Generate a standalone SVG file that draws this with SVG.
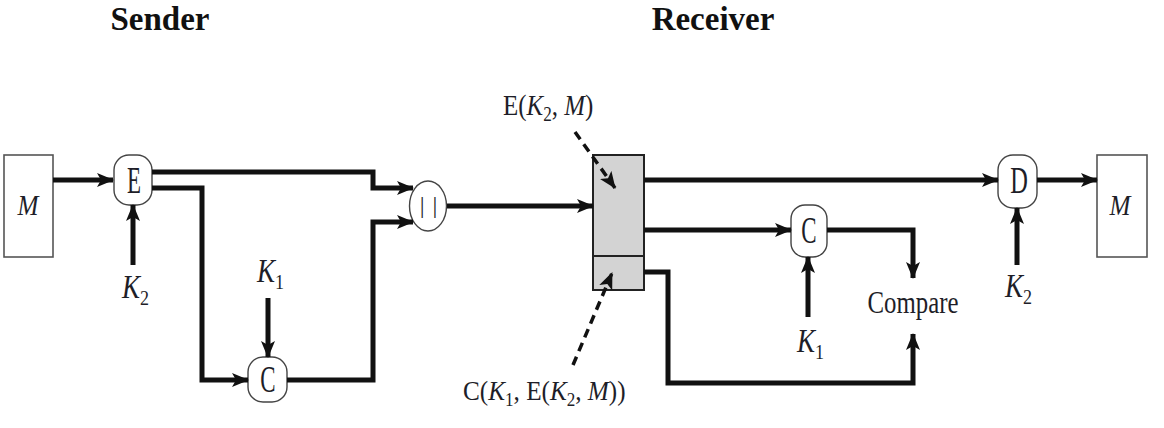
<svg xmlns="http://www.w3.org/2000/svg" width="1164" height="428" viewBox="0 0 1164 428">
<style>
.t{font-family:"Liberation Serif","Times New Roman",serif;fill:#1e1e28}
.title{font-size:33px;font-weight:bold;fill:#111}
.nl{font-size:37px}
.kl{font-size:33px}
.i{font-style:italic}
.sub{font-size:22px}
.conn{fill:none;stroke:#111;stroke-width:5;stroke-linejoin:miter}
.dash{fill:none;stroke:#111;stroke-width:3.5;stroke-dasharray:9 6}
.box{fill:#fff;stroke:#555;stroke-width:1.6}
.node{fill:#fff;stroke:#444;stroke-width:1.4}
.gray{fill:#d3d3d3;stroke:#222;stroke-width:2}
</style>
<defs>
<marker id="ah" markerUnits="userSpaceOnUse" markerWidth="18" markerHeight="14" refX="16" refY="7" orient="auto">
<path d="M0,0 L17,7 L0,14 L4,7 Z" fill="#111"/>
</marker>
</defs>
<text class="t title" x="160" y="30" text-anchor="middle">Sender</text>
<text class="t title" x="713" y="30" text-anchor="middle">Receiver</text>
<g id="M-sender">
<rect class="box" x="4" y="155" width="49" height="102"/>
<text class="t i" font-size="30" text-anchor="middle" transform="translate(28,215) scale(0.84,1)">M</text>
</g>
<g id="E">
<rect class="node" x="114" y="155" width="38" height="50" rx="15" ry="15"/>
<text class="t nl" text-anchor="middle" transform="translate(134,193) scale(0.62,1)">E</text>
</g>
<g id="K2-sender">
<text class="t kl" transform="translate(122,298) scale(0.82,1)"><tspan class="i">K</tspan><tspan class="sub" dy="7">2</tspan></text>
</g>
<g id="K1-sender">
<text class="t kl" transform="translate(257,282) scale(0.82,1)"><tspan class="i">K</tspan><tspan class="sub" dy="7">1</tspan></text>
</g>
<g id="C-sender">
<rect class="node" x="248" y="357" width="39" height="45" rx="15" ry="15"/>
<text class="t nl" text-anchor="middle" transform="translate(268,392) scale(0.62,1)">C</text>
</g>
<g id="concat">
<ellipse class="node" cx="428" cy="206" rx="18.5" ry="25"/>
<text class="t" font-size="24" letter-spacing="1" text-anchor="middle" x="429" y="213" fill="#222">| |</text>
</g>
<g id="message">
<rect class="gray" x="593" y="155" width="51" height="135"/>
<line x1="593" y1="256" x2="644" y2="256" stroke="#222" stroke-width="2"/>
</g>
<g id="label-E">
<text class="t" font-size="29" transform="translate(503,115) scale(0.86,1)">E(<tspan class="i">K</tspan><tspan font-size="20" dy="6">2</tspan><tspan dy="-6">, </tspan><tspan class="i">M</tspan>)</text>
</g>
<g id="label-C">
<text class="t" font-size="28" transform="translate(463,400) scale(0.9,1)">C(<tspan class="i">K</tspan><tspan font-size="19" dy="6">1</tspan><tspan dy="-6">, E(</tspan><tspan class="i">K</tspan><tspan font-size="19" dy="6">2</tspan><tspan dy="-6">, </tspan><tspan class="i">M</tspan>))</text>
</g>
<g id="C-receiver">
<rect class="node" x="791" y="205" width="36" height="52" rx="14" ry="14"/>
<text class="t nl" text-anchor="middle" transform="translate(809,243) scale(0.62,1)">C</text>
</g>
<g id="K1-receiver">
<text class="t kl" transform="translate(797,352) scale(0.82,1)"><tspan class="i">K</tspan><tspan class="sub" dy="7">1</tspan></text>
</g>
<g id="compare">
<text class="t" x="913" y="313" text-anchor="middle" font-size="32" textLength="91" lengthAdjust="spacingAndGlyphs">Compare</text>
</g>
<g id="D">
<rect class="node" x="998" y="155" width="39" height="53" rx="15" ry="15"/>
<text class="t nl" text-anchor="middle" transform="translate(1019,193) scale(0.66,1)">D</text>
</g>
<g id="K2-receiver">
<text class="t kl" transform="translate(1005,297) scale(0.82,1)"><tspan class="i">K</tspan><tspan class="sub" dy="7">2</tspan></text>
</g>
<g id="M-receiver">
<rect class="box" x="1097" y="155" width="50" height="102"/>
<text class="t i" font-size="30" text-anchor="middle" transform="translate(1120,215) scale(0.84,1)">M</text>
</g>
<g id="connectors">
<path class="conn" d="M53,180 H113" marker-end="url(#ah)"/>
<path class="conn" d="M152,172 H373 V188 H413" marker-end="url(#ah)"/>
<path class="conn" d="M152,188 H202 V380 H248" marker-end="url(#ah)"/>
<path class="conn" d="M268,298 V357" marker-end="url(#ah)"/>
<path class="conn" d="M287,380 H373 V222 H413" marker-end="url(#ah)"/>
<path class="conn" d="M133,265 V205" marker-end="url(#ah)"/>
<path class="conn" d="M447,206 H593" marker-end="url(#ah)"/>
<path class="conn" d="M644,180 H998" marker-end="url(#ah)"/>
<path class="conn" d="M644,230 H791" marker-end="url(#ah)"/>
<path class="conn" d="M827,230 H913 V278" marker-end="url(#ah)"/>
<path class="conn" d="M644,272 H668 V383 H913 V334" marker-end="url(#ah)"/>
<path class="conn" d="M808,317 V257" marker-end="url(#ah)"/>
<path class="conn" d="M1037,180 H1097" marker-end="url(#ah)"/>
<path class="conn" d="M1017,265 V208" marker-end="url(#ah)"/>
<path class="dash" d="M575,132 L615,188" marker-end="url(#ah)"/>
<path class="dash" d="M573,365 L612,273" marker-end="url(#ah)"/>
</g>
</svg>
